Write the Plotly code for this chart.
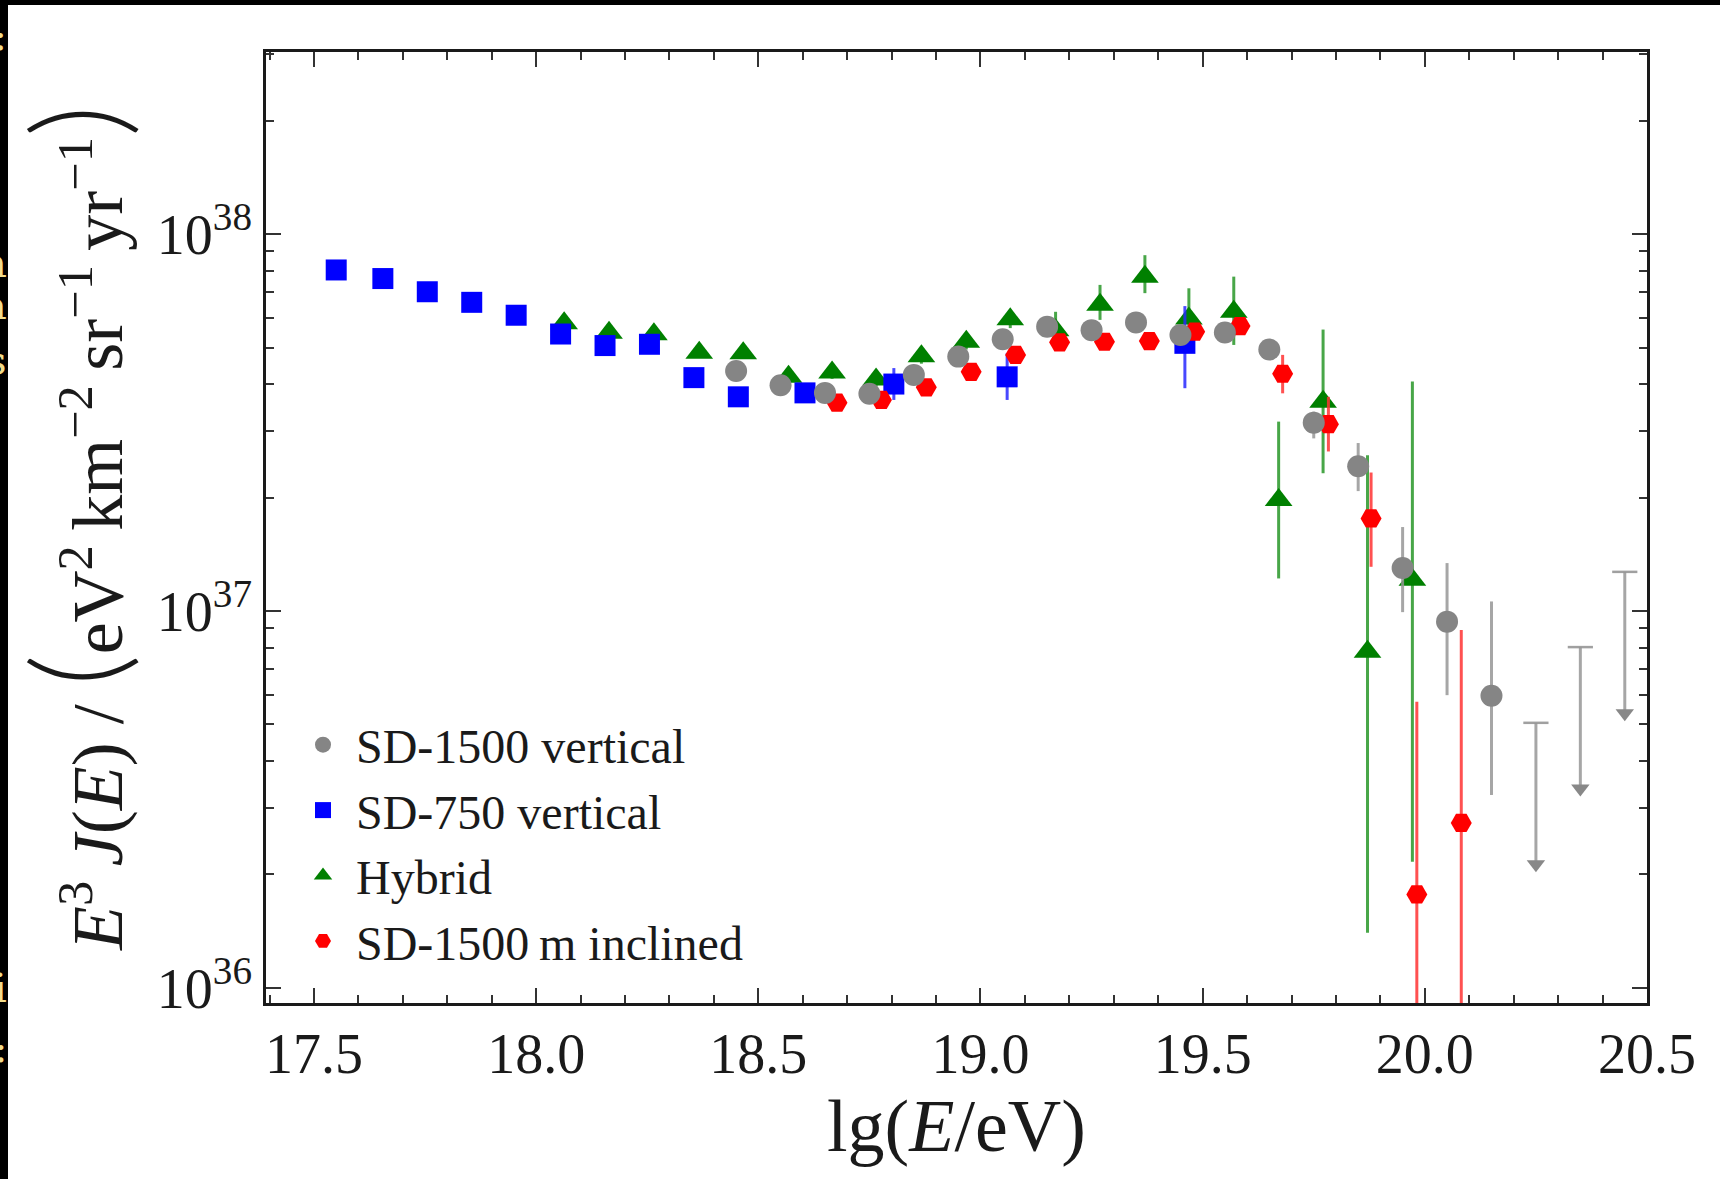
import plotly.graph_objects as go

# ---------------- data (E^3 J(E) in eV^2 km^-2 sr^-1 yr^-1) ----------------
# SD-1500 vertical
sd1500_x = [18.45, 18.55, 18.65, 18.75, 18.85, 18.95, 19.05, 19.15, 19.25,
            19.35, 19.45, 19.55, 19.65, 19.75, 19.85, 19.95, 20.05, 20.15]
sd1500_y = [4.33e37, 3.97e37, 3.79e37, 3.77e37, 4.23e37, 4.73e37, 5.26e37, 5.68e37, 5.56e37,
            5.83e37, 5.40e37, 5.48e37, 4.94e37, 3.16e37, 2.42e37, 1.30e37, 9.37e36, 5.96e36]
sd1500_hi = [4.37e37, 4.01e37, 3.83e37, 3.81e37, 4.28e37, 4.79e37, 5.33e37, 5.77e37, 5.67e37,
             5.97e37, 5.58e37, 5.70e37, 5.20e37, 3.38e37, 2.79e37, 1.67e37, 1.34e37, 1.06e37]
sd1500_lo = [4.29e37, 3.93e37, 3.75e37, 3.73e37, 4.18e37, 4.67e37, 5.19e37, 5.59e37, 5.45e37,
             5.69e37, 5.22e37, 5.26e37, 4.68e37, 2.87e37, 2.08e37, 9.93e36, 5.98e36, 3.25e36]

# SD-1500 vertical upper limits
sd1500_ul_x = [20.25, 20.35, 20.45]
sd1500_ul_y = [5.05e36, 8.02e36, 1.27e37]

# SD-750 vertical
sd750_x = [17.55, 17.655, 17.755, 17.855, 17.955, 18.055, 18.155, 18.255, 18.355,
           18.455, 18.605, 18.805, 19.06, 19.46]
sd750_y = [8.03e37, 7.62e37, 7.03e37, 6.59e37, 6.09e37, 5.43e37, 5.06e37, 5.10e37, 4.16e37,
           3.70e37, 3.79e37, 4.00e37, 4.18e37, 5.13e37]
sd750_hi = [8.07e37, 7.66e37, 7.07e37, 6.63e37, 6.13e37, 5.47e37, 5.10e37, 5.15e37, 4.21e37,
            3.75e37, 3.85e37, 4.41e37, 4.83e37, 6.44e37]
sd750_lo = [7.99e37, 7.58e37, 6.99e37, 6.55e37, 6.05e37, 5.39e37, 5.02e37, 5.05e37, 4.11e37,
            3.65e37, 3.73e37, 3.63e37, 3.63e37, 3.90e37]

# Hybrid
hyb_x = [18.063, 18.164, 18.265, 18.367, 18.466, 18.568, 18.666, 18.765, 18.867, 18.968,
         19.067, 19.169, 19.269, 19.370, 19.469, 19.570, 19.671, 19.771, 19.871, 19.972]
hyb_y = [5.80e37, 5.47e37, 5.42e37, 4.84e37, 4.83e37, 4.18e37, 4.29e37, 4.11e37, 4.74e37, 5.18e37,
         5.94e37, 5.56e37, 6.49e37, 7.71e37, 5.97e37, 6.22e37, 1.97e37, 3.59e37, 7.80e36, 1.21e37]
hyb_hi = [5.95e37, 5.62e37, 5.57e37, 4.99e37, 4.98e37, 4.33e37, 4.45e37, 4.28e37, 4.95e37, 5.42e37,
          6.25e37, 6.22e37, 7.33e37, 8.79e37, 7.18e37, 7.71e37, 3.18e37, 5.58e37, 2.59e37, 4.06e37]
hyb_lo = [5.65e37, 5.32e37, 5.27e37, 4.69e37, 4.68e37, 4.03e37, 4.13e37, 3.94e37, 4.53e37, 4.94e37,
          5.63e37, 5.28e37, 5.92e37, 6.97e37, 5.13e37, 5.08e37, 1.22e37, 2.32e37, 1.40e36, 2.16e36]

# SD-1500 m inclined
incl_x = [18.677, 18.777, 18.878, 18.979, 19.079, 19.178, 19.279, 19.380, 19.482, 19.584,
          19.680, 19.783, 19.879, 19.982, 20.082]
incl_y = [3.57e37, 3.63e37, 3.92e37, 4.31e37, 4.78e37, 5.16e37, 5.18e37, 5.20e37, 5.51e37, 5.70e37,
          4.26e37, 3.13e37, 1.76e37, 1.77e36, 2.74e36]
incl_hi = [3.62e37, 3.68e37, 3.98e37, 4.38e37, 4.86e37, 5.26e37, 5.29e37, 5.33e37, 5.68e37, 5.98e37,
           4.78e37, 3.70e37, 2.33e37, 5.74e36, 8.91e36]
incl_lo = [3.52e37, 3.58e37, 3.86e37, 4.24e37, 4.70e37, 5.06e37, 5.07e37, 5.07e37, 5.34e37, 5.42e37,
           3.78e37, 2.65e37, 1.31e37, 1.0e35, 1.0e35]

x_tickvals = [17.5, 18.0, 18.5, 19.0, 19.5, 20.0, 20.5]
x_ticktext = ["17.5", "18.0", "18.5", "19.0", "19.5", "20.0", "20.5"]
y_tickvals = [1e36, 1e37, 1e38]
y_ticktext = ["10<sup>36</sup>", "10<sup>37</sup>", "10<sup>38</sup>"]

# ---------------- styling ----------------
FONT = "Liberation Serif"
W, H = 1720, 1179
ML, MR, MT, MB = 266, 73, 52, 176
PW, PH = W - ML - MR, H - MT - MB


def px_to_paper(px, py):
    return (px - ML) / PW, (H - MB - py) / PH


def errs(y, hi, lo):
    return [h - v for v, h in zip(y, hi)], [v - l for v, l in zip(y, lo)]


fig = go.Figure()

series = [
    # name, x, y, hi, lo, symbol, size, color, errcolor, rank
    ("Hybrid", hyb_x, hyb_y, hyb_hi, hyb_lo, "triangle-up", 24, "#008000", "rgba(40,150,40,0.85)", 3),
    ("SD-750 vertical", sd750_x, sd750_y, sd750_hi, sd750_lo, "square", 21, "#0000ff", "rgba(40,40,255,0.85)", 2),
    ("SD-1500\u2009m inclined", incl_x, incl_y, incl_hi, incl_lo, "hexagon2", 21, "#ff0000", "rgba(255,50,50,0.85)", 4),
    ("SD-1500 vertical", sd1500_x, sd1500_y, sd1500_hi, sd1500_lo, "circle", 22, "#858585", "rgba(150,150,150,0.85)", 1),
]

for name, x, y, hi, lo, sym, size, col, ecol, rank in series:
    up, dn = errs(y, hi, lo)
    fig.add_trace(go.Scatter(
        x=x, y=y, mode="markers", name=name, legendrank=rank,
        marker=dict(symbol=sym, size=size, color=col, line=dict(width=0)),
        error_y=dict(type="data", symmetric=False, array=up, arrayminus=dn,
                     width=0, thickness=3, color=ecol),
    ))

# upper limits (arrows)
ARROW_DEC = 0.375
ul_tip = [v * 10.0 ** (-ARROW_DEC) for v in sd1500_ul_y]
fig.add_trace(go.Scatter(
    x=sd1500_ul_x, y=ul_tip, mode="markers", showlegend=False,
    marker=dict(symbol="triangle-down", size=16, color="#888888", line=dict(width=0)),
    error_y=dict(type="data", symmetric=False,
                 array=[v - t for v, t in zip(sd1500_ul_y, ul_tip)],
                 arrayminus=[0.0] * len(ul_tip), width=0, thickness=3,
                 color="rgba(150,150,150,0.85)"),
))
fig.add_trace(go.Scatter(
    x=sd1500_ul_x, y=sd1500_ul_y, mode="markers", showlegend=False,
    marker=dict(symbol="line-ew", size=18, line=dict(width=2.5, color="rgba(150,150,150,0.9)")),
))

minor_y = [float(m) * 10.0 ** e for e in (35, 36, 37, 38) for m in range(2, 10)]

axis_common = dict(
    showline=True, linecolor="#1a1a1a", linewidth=2.5, mirror="ticks",
    ticks="inside", ticklen=15, tickwidth=2, tickcolor="#333333",
    showgrid=False, zeroline=False, automargin=False,
    tickfont=dict(family=FONT, size=56, color="#1a1a1a"),
)

BIG = "<span style='font-family:Lato;font-weight:300;font-size:124px'>%s</span>"
ytitle = ("<i>E</i><sup>3</sup>\u2009<i>J</i>(<i>E</i>) / "
          + BIG % "(" + "eV<sup>2</sup>\u2009km<sup>\u22122</sup>\u2009sr<sup>\u22121</sup>"
          "\u2009yr<sup>\u22121</sup>" + BIG % ")")

fig.update_layout(
    width=W, height=H,
    margin=dict(l=ML, r=MR, t=MT, b=MB),
    paper_bgcolor="white", plot_bgcolor="white",
    font=dict(family=FONT, color="#1a1a1a"),
    showlegend=True,
    legend=dict(
        x=px_to_paper(290, 0)[0], y=px_to_paper(0, 979)[1],
        xanchor="left", yanchor="bottom",
        bgcolor="rgba(0,0,0,0)", borderwidth=0,
        font=dict(family=FONT, size=48, color="#1a1a1a"),
        itemsizing="trace", itemwidth=56,
    ),
    xaxis=dict(
        **axis_common,
        range=[17.392, 20.5],
        tickvals=x_tickvals, ticktext=x_ticktext,
        minor=dict(ticks="inside", ticklen=8, tickwidth=1.5, tickcolor="#333333",
                   dtick=0.1, tick0=17.5),
        title=dict(text="lg(<i>E</i>/eV)", font=dict(family=FONT, size=74, color="#1a1a1a"),
                   standoff=13),
    ),
    yaxis=dict(
        **axis_common,
        type="log",
        range=[35.960, 38.483],
        tickvals=y_tickvals, ticktext=y_ticktext,
        minor=dict(ticks="inside", ticklen=8, tickwidth=1.5, tickcolor="#333333",
                   tickvals=minor_y),
        title=dict(text=ytitle, font=dict(family=FONT, size=72, color="#1a1a1a"),
                   standoff=44),
    ),
)

# black border strips of the screenshot (left and top)
x0p, _ = px_to_paper(0, 0)
x8p, _ = px_to_paper(8, 0)
xRp, _ = px_to_paper(W, 0)
_, ytop = px_to_paper(0, 0)
_, y5 = px_to_paper(0, 5)
_, ybot = px_to_paper(0, H)
fig.add_shape(type="rect", xref="paper", yref="paper", x0=x0p, x1=x8p, y0=ybot, y1=ytop,
              fillcolor="black", line=dict(width=0), layer="above")
fig.add_shape(type="rect", xref="paper", yref="paper", x0=x0p, x1=xRp, y0=y5, y1=ytop,
              fillcolor="black", line=dict(width=0), layer="above")

# cut-off yellow text fragments at the left edge
frag_text = ["s:", "m", "a", "s", "i", ":"]
frag_py = [36, 263, 305, 360, 988, 1048]
for t, py in zip(frag_text, frag_py):
    fig.add_annotation(text=t, xref="paper", yref="paper",
                       x=px_to_paper(9, 0)[0], y=px_to_paper(0, py)[1],
                       xanchor="right", yanchor="middle", showarrow=False,
                       font=dict(family="DejaVu Serif", size=40, color="#f3dc8a"))

fig.write_html("out.html", config={"displayModeBar": False},
               post_script="document.body.style.margin='0px';")
